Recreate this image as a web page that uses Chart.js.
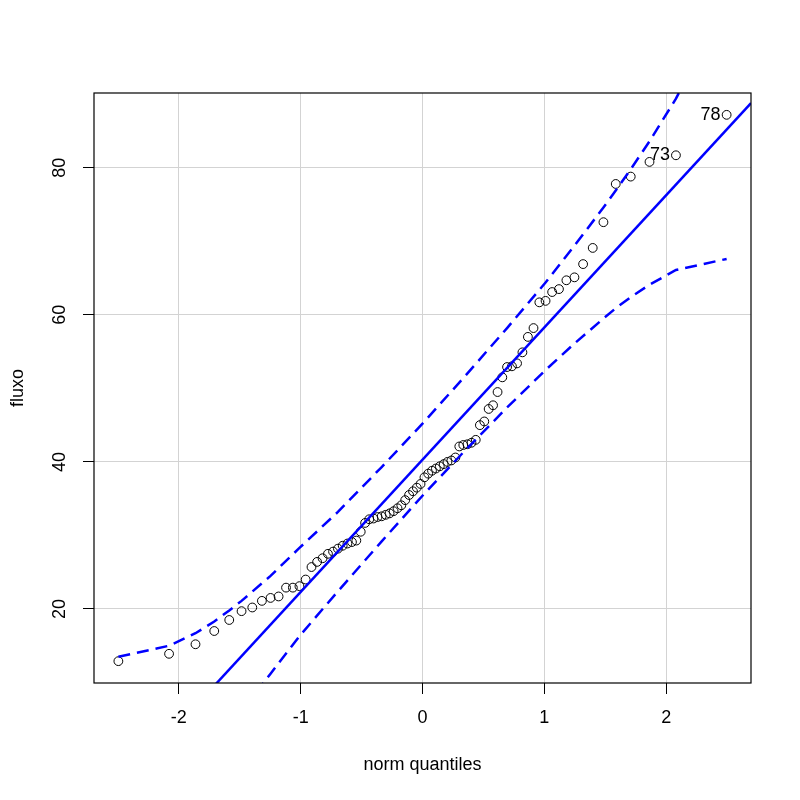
<!DOCTYPE html>
<html>
<head>
<meta charset="utf-8">
<title>qqPlot fluxo</title>
<script src="https://cdn.jsdelivr.net/npm/chart.js@4.4.0/dist/chart.umd.min.js"></script>
<style>
  html, body { margin: 0; padding: 0; background: #ffffff; }
  #wrap { width: 800px; height: 800px; position: relative; }
</style>
</head>
<body>
<div id="wrap"><canvas id="qq"></canvas></div>
<script>
// Normal quantiles (x) of the 80 sorted observations
const normQuantiles = [
  -2.496, -2.080, -1.863, -1.709, -1.586, -1.485, -1.397, -1.318, -1.247, -1.181,
  -1.120, -1.064, -1.010, -0.959, -0.911, -0.865, -0.820, -0.776, -0.734, -0.694,
  -0.655, -0.616, -0.579, -0.543, -0.507, -0.471, -0.437, -0.402, -0.369, -0.335,
  -0.302, -0.270, -0.237, -0.205, -0.174, -0.142, -0.110, -0.078, -0.047, -0.016,
  0.016, 0.047, 0.078, 0.110, 0.142, 0.174, 0.205, 0.237, 0.270, 0.302,
  0.335, 0.369, 0.402, 0.437, 0.471, 0.507, 0.543, 0.579, 0.616, 0.655,
  0.694, 0.734, 0.776, 0.820, 0.865, 0.911, 0.959, 1.010, 1.064, 1.120,
  1.181, 1.247, 1.318, 1.397, 1.485, 1.586, 1.709, 1.863, 2.080, 2.496
];

// Sorted fluxo values
const fluxo = [
  12.9, 13.9, 15.2, 17.0, 18.5, 19.7, 20.2, 21.1, 21.5, 21.7,
  22.9, 22.9, 23.1, 24.0, 25.7, 26.4, 26.9, 27.5, 27.8, 28.2,
  28.6, 28.9, 29.1, 29.3, 30.5, 31.7, 32.2, 32.3, 32.5, 32.6,
  32.8, 33.0, 33.3, 33.7, 34.1, 34.8, 35.5, 36.0, 36.5, 37.0,
  37.9, 38.4, 38.8, 39.1, 39.4, 39.7, 40.0, 40.2, 40.6, 42.1,
  42.3, 42.4, 42.6, 43.0, 45.0, 45.5, 47.2, 47.7, 49.5, 51.5,
  52.9, 53.0, 53.4, 54.9, 57.0, 58.2, 61.7, 61.9, 63.1, 63.5,
  64.7, 65.1, 66.9, 69.1, 72.6, 77.8, 78.8, 80.8, 81.7, 87.2
];

// Labelled points (index in sorted order -> observation label)
const labelIndex = [78, 79];
const labelText = ['73', '78'];

// Reference line, drawn edge to edge
const refX = [-2.696, 2.696];
const refY = [-8.2, 88.8];

// Confidence envelope
const envX = [-2.496, -2.080, -1.863, -1.709, -1.586, -1.485, -1.247, -1.010, -0.694, -0.335,
  0, 0.335, 0.694, 1.010, 1.247, 1.485, 1.586, 1.709, 1.863, 2.080, 2.496];
const envUpper = [13.5, 15.0, 16.7, 18.3, 19.8, 21.1, 24.5, 28.3, 33.2, 39.3,
  45.2, 51.4, 58.2, 64.4, 69.4, 74.6, 76.9, 79.8, 83.6, 89.4, 102.8];
const envLower = [-22.2, -8.8, -3.0, 0.8, 3.8, 6.0, 11.2, 16.3, 22.4, 29.2,
  35.4, 41.3, 47.4, 52.5, 56.1, 59.5, 60.9, 62.4, 64.1, 66.1, 67.6];

// Axes
const xTicks = [-2, -1, 0, 1, 2];
const xTickLabels = ['-2', '-1', '0', '1', '2'];
const yTicks = [20, 40, 60, 80];
const yTickLabels = ['20', '40', '60', '80'];
const xTitle = 'norm quantiles';
const yTitle = 'fluxo';

const FONT = '"Liberation Sans", Arial, Helvetica, sans-serif';
const BLUE = '#0000ff';

const toPoints = (xs, ys) => xs.map((x, i) => ({ x, y: ys[i] }));

/**
 * Frame, tick labels, axis titles and point labels
 */
const decorations = {
  id: 'decorations',
  afterDraw(chart) {
    const { ctx, chartArea: a, scales: { x, y } } = chart;
    ctx.save();

    ctx.strokeStyle = '#000';
    ctx.lineWidth = 1.2;
    ctx.strokeRect(a.left, a.top, a.right - a.left, a.bottom - a.top);

    ctx.fillStyle = '#000';
    ctx.font = '18px ' + FONT;
    ctx.textAlign = 'center';
    ctx.textBaseline = 'middle';

    xTicks.forEach((v, i) => {
      ctx.fillText(xTickLabels[i], x.getPixelForValue(v), 718);
    });

    yTicks.forEach((v, i) => {
      ctx.save();
      ctx.translate(60, y.getPixelForValue(v));
      ctx.rotate(-Math.PI / 2);
      ctx.fillText(yTickLabels[i], 0, 0);
      ctx.restore();
    });

    ctx.fillText(xTitle, (a.left + a.right) / 2, 765);
    ctx.save();
    ctx.translate(18, (a.top + a.bottom) / 2);
    ctx.rotate(-Math.PI / 2);
    ctx.fillText(yTitle, 0, 0);
    ctx.restore();

    // point labels to the left of the points
    ctx.textAlign = 'right';
    labelIndex.forEach((idx, i) => {
      const px = x.getPixelForValue(normQuantiles[idx]);
      const py = y.getPixelForValue(fluxo[idx]);
      ctx.fillText(labelText[i], px - 6, py);
    });

    ctx.restore();
  }
};

new Chart(document.getElementById('qq'), {
  type: 'scatter',
  data: {
    datasets: [
      {
        label: 'fluxo',
        data: toPoints(normQuantiles, fluxo),
        pointRadius: 4.4,
        pointBorderWidth: 1,
        pointBorderColor: '#000',
        pointBackgroundColor: 'rgba(0,0,0,0)',
        order: 3
      },
      {
        label: 'reference',
        data: toPoints(refX, refY),
        showLine: true,
        borderColor: BLUE,
        borderWidth: 2.5,
        pointRadius: 0,
        clip: 0,
        order: 1
      },
      {
        label: 'upper',
        data: toPoints(envX, envUpper),
        showLine: true,
        borderColor: BLUE,
        borderWidth: 2.5,
        borderDash: [12, 7],
        pointRadius: 0,
        clip: 0,
        order: 2
      },
      {
        label: 'lower',
        data: toPoints(envX, envLower),
        showLine: true,
        borderColor: BLUE,
        borderWidth: 2.5,
        borderDash: [12, 7],
        pointRadius: 0,
        clip: 0,
        order: 2
      }
    ]
  },
  options: {
    responsive: true,
    maintainAspectRatio: false,
    animation: false,
    layout: {
      padding: { left: 0, right: 49, top: 93, bottom: 0 }
    },
    plugins: {
      legend: { display: false },
      tooltip: { enabled: false }
    },
    scales: {
      x: {
        type: 'linear',
        min: -2.696,
        max: 2.696,
        afterBuildTicks: scale => { scale.ticks = xTicks.map(v => ({ value: v })); },
        afterFit: scale => { scale.height = 117; },
        border: { display: false },
        grid: {
          color: '#d3d3d3',
          lineWidth: 1,
          tickColor: '#000',
          tickLength: 11,
          drawTicks: true
        },
        ticks: { display: false }
      },
      y: {
        type: 'linear',
        min: 9.93,
        max: 90.17,
        afterBuildTicks: scale => { scale.ticks = yTicks.map(v => ({ value: v })); },
        afterFit: scale => { scale.width = 94; },
        border: { display: false },
        grid: {
          color: '#d3d3d3',
          lineWidth: 1,
          tickColor: '#000',
          tickLength: 11,
          drawTicks: true
        },
        ticks: { display: false }
      }
    }
  },
  plugins: [decorations]
});
</script>
</body>
</html>
